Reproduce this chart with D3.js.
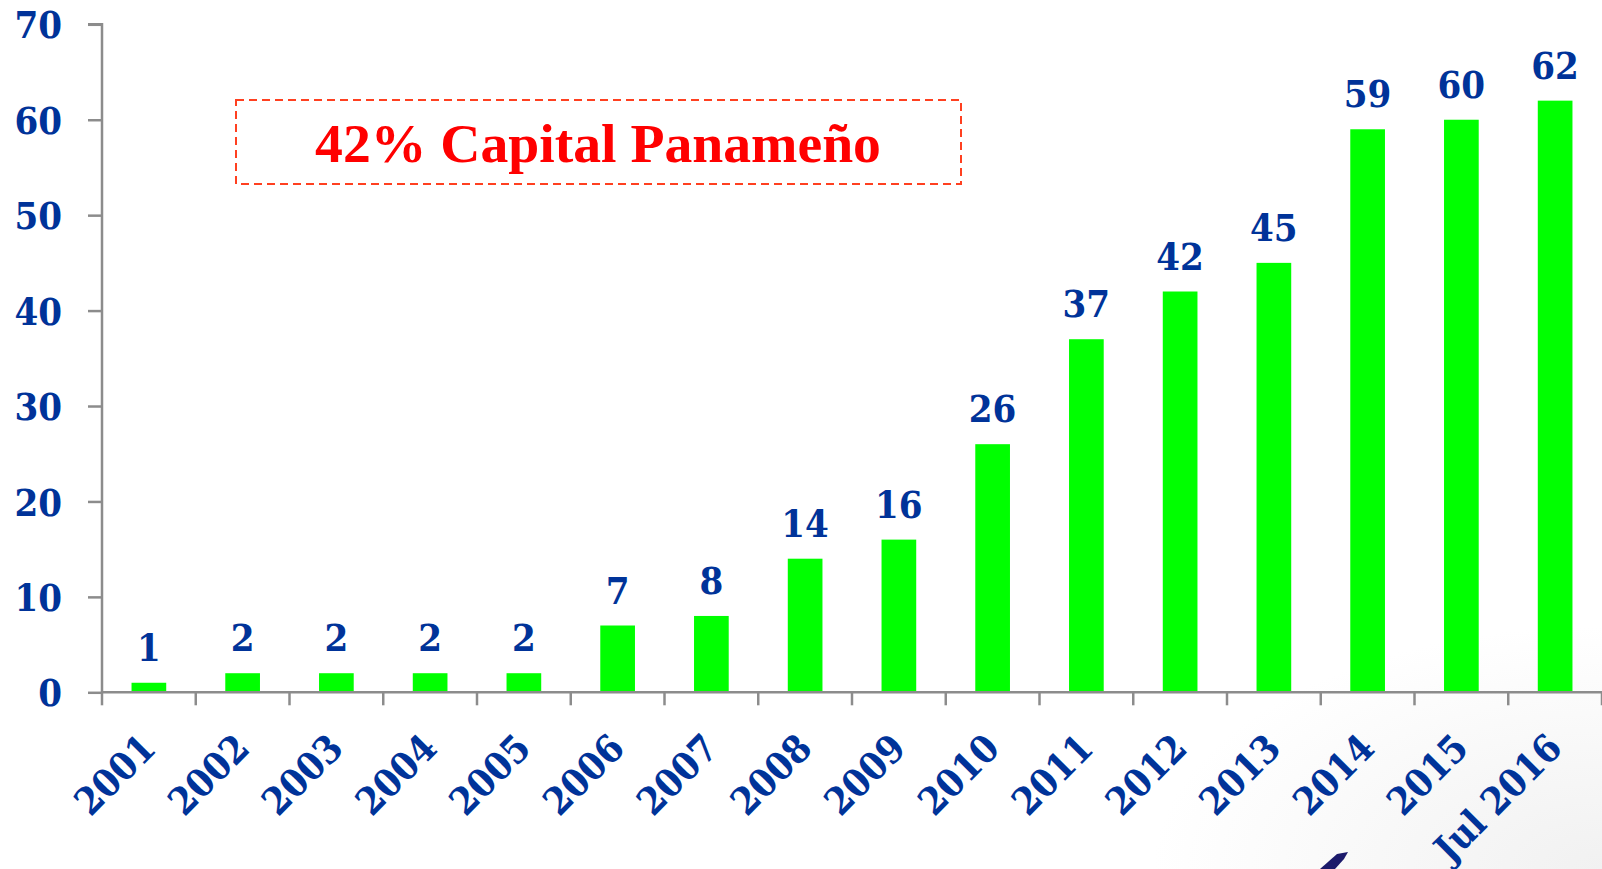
<!DOCTYPE html>
<html>
<head>
<meta charset="utf-8">
<script src="https://cdn.jsdelivr.net/npm/d3@7"></script>
<style>
html,body{margin:0;padding:0;background:#fff;}
svg{display:block;}
</style>
</head>
<body>
<svg id="chart" width="1602" height="869"></svg>
<script>
const categories = ["2001","2002","2003","2004","2005","2006","2007","2008","2009","2010","2011","2012","2013","2014","2015","Jul 2016"];
const values = [1,2,2,2,2,7,8,14,16,26,37,42,45,59,60,62];
const yTicks = [0,10,20,30,40,50,60,70];
const annotation = "42% Capital Panameño";

const svg = d3.select("#chart");
const W = 1602, H = 869;
const blue = "#003399";
const axisGray = "#8c8c8c";
const fontFam = "'DejaVu Serif Condensed', 'DejaVu Serif', serif";
const fs = 38;

// subtle background shading bottom-right
const defs = svg.append("defs");
const rg = defs.append("radialGradient").attr("id","shade")
  .attr("cx","100%").attr("cy","100%").attr("r","28%");
rg.append("stop").attr("offset","0%").attr("stop-color","#f1f1f1");
rg.append("stop").attr("offset","100%").attr("stop-color","#ffffff");
svg.append("rect").attr("width",W).attr("height",H).attr("fill","#fff");
svg.append("rect").attr("width",W).attr("height",H).attr("fill","url(#shade)");

const x0 = 102, x1 = 1602, y0 = 692.3, yTop = 24.3;
const x = d3.scaleBand().domain(categories).range([x0, x1]).paddingInner(0.63).paddingOuter(0.315);
const y = d3.scaleLinear().domain([0,70]).range([y0, yTop]);
const band = (x1 - x0) / categories.length;

// bars
svg.append("g").selectAll("rect").data(values).join("rect")
  .attr("x",(d,i)=>x(categories[i]))
  .attr("y",d=>y(d))
  .attr("width",x.bandwidth())
  .attr("height",d=>y0-y(d))
  .attr("fill","#00ff00");

// y axis
const yAxis = svg.append("g").attr("transform",`translate(${x0},0)`)
  .call(d3.axisLeft(y).tickValues(yTicks).tickSize(14).tickPadding(26).tickFormat(d3.format("d")));
yAxis.select(".domain").attr("stroke",axisGray).attr("stroke-width",2.5).attr("d",`M-14,${yTop}H0V${y0}`);
yAxis.selectAll(".tick line").attr("stroke",axisGray).attr("stroke-width",2.5);
yAxis.selectAll(".tick text").attr("fill",blue).attr("font-family",fontFam).attr("font-weight","bold")
  .attr("font-size",fs).attr("dy","0.36em");

// x axis
const xAxis = svg.append("g").attr("transform",`translate(0,${y0})`)
  .call(d3.axisBottom(x).tickSize(0).tickFormat(""));
xAxis.select(".domain").attr("stroke",axisGray).attr("stroke-width",2.5).attr("d",`M${x0},0H${x1}`);
xAxis.selectAll(".tick").remove();
const bounds = d3.range(categories.length+1).map(i=>x0 + i*band);
xAxis.selectAll("line.bt").data(bounds).join("line").attr("class","bt")
  .attr("x1",d=>d).attr("x2",d=>d).attr("y1",0).attr("y2",13)
  .attr("stroke",axisGray).attr("stroke-width",2.5);

// x labels rotated
svg.append("g").selectAll("text").data(categories).join("text")
  .attr("transform",d=>`translate(${x(d)+x.bandwidth()/2+9},${y0+58}) rotate(-45)`)
  .attr("text-anchor","end")
  .attr("fill",blue).attr("font-family",fontFam).attr("font-weight","bold").attr("font-size",fs)
  .text(d=>d);

// value labels
svg.append("g").selectAll("text").data(values).join("text")
  .attr("x",(d,i)=>x(categories[i])+x.bandwidth()/2)
  .attr("y",d=>y(d)-22)
  .attr("text-anchor","middle")
  .attr("fill",blue).attr("font-family",fontFam).attr("font-weight","bold").attr("font-size",fs)
  .text(d=>d);

// annotation box
svg.append("rect").attr("x",236).attr("y",100).attr("width",725).attr("height",84)
  .attr("fill","none").attr("stroke","#ff4020").attr("stroke-width",2).attr("stroke-dasharray","8,5");
const at = svg.append("text").attr("x",598).attr("y",162).attr("text-anchor","middle")
  .attr("fill","#ff0000").attr("font-family","'Liberation Serif', serif").attr("font-weight","bold")
  .attr("font-size",50).text(annotation);
const tl = at.node().getComputedTextLength();
at.attr("font-size", 50 * 566 / tl);

// logo fragment
svg.append("path").attr("d","M1320,869 L1337,854 L1348,852 L1344,859 L1335,869 Z").attr("fill","#1c1a6b");
</script>
</body>
</html>
